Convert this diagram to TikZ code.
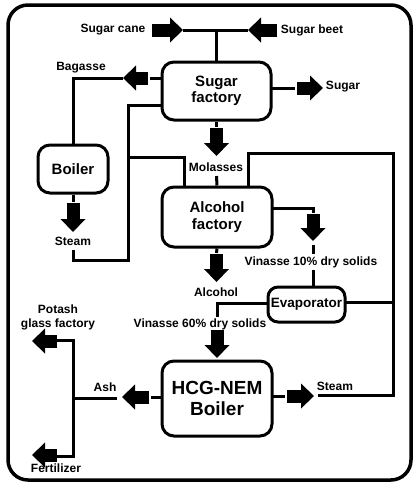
\documentclass[tikz,border=0pt]{standalone}
\usepackage{fontspec}
\setmainfont{Liberation Sans}
\usetikzlibrary{arrows.meta}
\begin{document}
\begin{tikzpicture}[x=1pt,y=-1pt,
  conn/.style={line width=3pt, line join=miter, line cap=butt},
  fat/.style={line width=13pt, line cap=butt, -{Triangle[width=25pt,length=13pt,line width=0pt]}},
  box/.style={draw, line width=3pt, rounded corners=12pt, inner sep=0pt, align=center},
  lbl/.style={font=\bfseries\fontsize{12}{14}\selectfont, inner sep=0pt, align=center},
  btxt/.style={font=\bfseries\fontsize{15}{16.5}\selectfont},
  htxt/.style={font=\bfseries\fontsize{19}{20.5}\selectfont}]
\useasboundingbox (0,0) rectangle (415,483);
\draw[line width=3.5pt, rounded corners=20pt] (8,5) rectangle (411,480);

% boxes
\node[box, btxt, minimum width=109pt, minimum height=58pt] (sf) at (216.5,91) {Sugar\\factory};
\node[box, btxt, minimum width=110pt, minimum height=60pt] (af) at (217,217) {Alcohol\\factory};
\node[box, btxt, minimum width=70pt, minimum height=48pt] (boiler) at (73,169) {Boiler};
\node[box, font=\bfseries\fontsize{13.5}{15}\selectfont, rounded corners=10pt, minimum width=77pt, minimum height=35pt] (evap) at (306.5,304.5) {Evaporator};
\node[box, htxt, minimum width=110pt, minimum height=75pt] (hcg) at (217,398.5) {HCG-NEM\\Boiler};

% labels
\node[lbl] (cane) at (113,30) {Sugar cane};
\node[lbl] (beet) at (312,30) {Sugar beet};
\node[lbl] (bag) at (81,68) {Bagasse};
\node[lbl] (sug) at (343,87) {Sugar};
\node[lbl] (mol) at (216,167) {Molasses};
\node[lbl] (steam1) at (73,241) {Steam};
\node[lbl] (vin10) at (311,262) {Vinasse 10\% dry solids};
\node[lbl] (alc) at (216,292) {Alcohol};
\node[lbl] (vin60) at (200,324) {Vinasse 60\% dry solids};
\node[lbl] (ash) at (105,387) {Ash};
\node[lbl] (steam2) at (335,386) {Steam};
\node[lbl] (potash) at (58,317) {Potash\\glass factory};
\node[lbl] (fert) at (56,468) {Fertilizer};

% coordinates
\coordinate (j1) at (216.5,30);
\coordinate (caneA) at (152,30); \coordinate (caneB) at (183,30);
\coordinate (beetA) at (277,30); \coordinate (beetB) at (248,30);
\coordinate (bag1) at (162,78); \coordinate (bag2) at (150,78);
\coordinate (bag3) at (148,78); \coordinate (bag4) at (123,78);
\coordinate (bag5) at (73,78);
\coordinate (sug1) at (271,88); \coordinate (sug2) at (295,88);
\coordinate (sug3) at (297,88); \coordinate (sug4) at (323,88);
\coordinate (mol1) at (216.5,127); \coordinate (mol2) at (216.5,128); \coordinate (mol3) at (216.5,156);
\coordinate (mol4) at (216.5,176);
\coordinate (st1) at (162,105); \coordinate (st2) at (128,105); \coordinate (st3) at (128,260);
\coordinate (st4) at (73,260); \coordinate (st5) at (73,250);
\coordinate (st6) at (128,157); \coordinate (st7) at (184,157); \coordinate (st8) at (184,187);
\coordinate (bo1) at (73,202); \coordinate (bo2) at (73,203); \coordinate (bo3) at (73,232);
\coordinate (lp1) at (248,187); \coordinate (lp2) at (248,153); \coordinate (lp3) at (393,153);
\coordinate (lp4) at (393,395); \coordinate (lp5) at (318,395);
\coordinate (ev1) at (345,302); \coordinate (ev2) at (393,302);
\coordinate (v1) at (272,208); \coordinate (v2) at (313,208); \coordinate (v3) at (313,213);
\coordinate (v4) at (313,214); \coordinate (v5) at (313,241);
\coordinate (v6) at (313,245); \coordinate (v7) at (313,254);
\coordinate (v8) at (313,270); \coordinate (v9) at (313,287);
\coordinate (al1) at (216.5,247); \coordinate (al2) at (216.5,253); \coordinate (al3) at (216.5,254); \coordinate (al4) at (216.5,282);
\coordinate (e1) at (268,303); \coordinate (e2) at (217,303); \coordinate (e3) at (217,317);
\coordinate (e4) at (217,330); \coordinate (e5) at (217,358);
\coordinate (h1) at (272,396); \coordinate (h2) at (285,396); \coordinate (h3) at (287,396); \coordinate (h4) at (314,396);
\coordinate (a1) at (162,397); \coordinate (a2) at (151,397); \coordinate (a3) at (149,397); \coordinate (a4) at (122,397);
\coordinate (a5) at (117,398); \coordinate (a6) at (73,398);
\coordinate (p1) at (57,340); \coordinate (p2) at (73,340); \coordinate (p3) at (73,456); \coordinate (p4) at (57,456);
\coordinate (pa1) at (57,341); \coordinate (pa2) at (32,341);
\coordinate (fa1) at (57,455); \coordinate (fa2) at (32,455);

% connectors
\draw[fat] (caneA) -- (caneB);
\draw[fat] (beetA) -- (beetB);
\draw[conn] (caneB) -- (beetB);
\draw[conn] (j1) -- (sf.north);
\draw[conn] (bag1) -- (bag2);
\draw[fat] (bag3) -- (bag4);
\draw[conn] (bag4) -- (bag5) -- (boiler.north);
\draw[conn] (sug1) -- (sug2);
\draw[fat] (sug3) -- (sug4);
\draw[conn] (sf.south) -- (mol1);
\draw[fat] (mol2) -- (mol3);
\draw[conn] (mol4) -- (af.north);
\draw[conn] (st1) -- (st2) -- (st3) -- (st4) -- (st5);
\draw[conn] (st6) -- (st7) -- (st8);
\draw[conn] (boiler.south) -- (bo1);
\draw[fat] (bo2) -- (bo3);
\draw[conn] (lp1) -- (lp2) -- (lp3) -- (lp4) -- (lp5);
\draw[conn] (ev1) -- (ev2);
\draw[conn] (v1) -- (v2) -- (v3);
\draw[fat] (v4) -- (v5);
\draw[conn] (v6) -- (v7);
\draw[conn] (v8) -- (v9);
\draw[conn] (af.south) -- (al2);
\draw[fat] (al3) -- (al4);
\draw[conn] (e1) -- (e2) -- (e3);
\draw[fat] (e4) -- (e5);
\draw[conn] (h1) -- (h2);
\draw[fat] (h3) -- (h4);
\draw[conn] (a1) -- (a2);
\draw[fat] (a3) -- (a4);
\draw[conn] (a5) -- (a6);
\draw[conn] (p1) -- (p2) -- (p3) -- (p4);
\draw[fat] (pa1) -- (pa2);
\draw[fat] (fa1) -- (fa2);
\end{tikzpicture}
\end{document}
